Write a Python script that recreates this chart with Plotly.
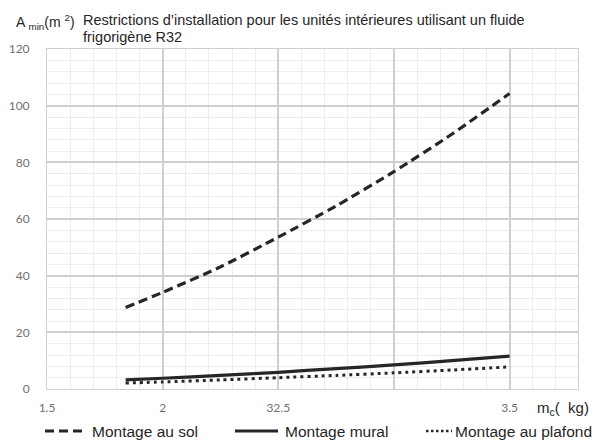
import plotly.graph_objects as go

# Data
m_c = [1.84, 2.0, 2.25, 2.5, 2.75, 3.0, 3.25, 3.5]
sol = [28.8, 34.1, 43.1, 53.6, 64.6, 76.7, 89.9, 104.3]
mural = [3.2, 3.8, 4.8, 5.9, 7.2, 8.5, 10.0, 11.6]
plafond = [2.1, 2.5, 3.2, 4.0, 4.8, 5.7, 6.7, 7.8]

x_tickvals = [1.5, 2.0, 2.5, 3.0, 3.5]
x_ticktext = ["1.5", "2", "32.5", "", "3.5"]
y_tickvals = [0, 20, 40, 60, 80, 100, 120]

names = ["Montage au sol", "Montage mural", "Montage au plafond"]

L, R, T, B = 47, 22, 49, 59
W, H = 600, 448
pw = W - L - R
ph = H - T - B

INK = "#262626"
dashes = ["9px,5px", "solid", "3px,4px"]
widths = [3.2, 3.2, 3.0]

fig = go.Figure()
for name, ys, d, w in zip(names, [sol, mural, plafond], dashes, widths):
    fig.add_trace(go.Scatter(x=m_c, y=ys, mode="lines", name=name, showlegend=False,
                             line=dict(color=INK, width=w, dash=d, shape="spline", smoothing=0.6)))

tickfont = dict(family="Lato, Liberation Sans, sans-serif", size=12, color="#707070")
txtfont = "Liberation Sans, Arial, sans-serif"


def px(xp):
    return (xp - L) / pw


def py(yp):
    return (H - B - yp) / ph


def note(text, xp, yp, size, anchor="left"):
    return dict(text=text, x=px(xp), y=py(yp), xref="paper", yref="paper",
                showarrow=False, xanchor=anchor, yanchor="middle", align="left",
                font=dict(family=txtfont, size=size, color=INK))


# manual legend (key samples + labels) below the plot
leg_y = 431
leg_keys = [(45, 84, "9px,5px", 3.2), (235, 278, "solid", 3.2), (426, 452, "2.5px,2.5px", 2.6)]
leg_text = [(90, "left"), (283, "left"), (594, "right")]
shapes = []
for (x0, x1, d, w) in leg_keys:
    shapes.append(dict(type="line", xref="paper", yref="paper",
                       x0=px(x0), x1=px(x1), y0=py(leg_y), y1=py(leg_y),
                       line=dict(color=INK, width=w, dash=d)))

annotations = [
    note("A <sub>min</sub>(m <sup>2</sup>)", 14, 22, 14),
    note("Restrictions d\u2019installation pour les unités intérieures utilisant un fluide", 81, 20, 14.5),
    note("frigorigène R32", 81, 37, 14.5),
    note("m<sub>c</sub>(  kg)", 535, 408, 15),
]
for name, (tx, anc) in zip(names, leg_text):
    annotations.append(note(name, tx, leg_y, 15.5, anc))

fig.update_layout(
    width=W, height=H,
    margin=dict(l=L, r=R, t=T, b=B, autoexpand=False),
    paper_bgcolor="white", plot_bgcolor="white",
    showlegend=False,
    xaxis=dict(range=[1.5, 3.796], tickvals=x_tickvals, ticktext=x_ticktext,
               showgrid=True, gridcolor="#cfcfcf", gridwidth=1.5,
               minor=dict(dtick=0.1, showgrid=True, gridcolor="#ececec", gridwidth=1),
               zeroline=False, showline=True, linecolor="#cfcfcf", mirror=True,
               ticks="", tickfont=tickfont, ticklabelstandoff=8),
    yaxis=dict(range=[0, 120], tickvals=y_tickvals,
               showgrid=True, gridcolor="#cfcfcf", gridwidth=1.5,
               minor=dict(dtick=4, showgrid=True, gridcolor="#ececec", gridwidth=1),
               zeroline=False, showline=True, linecolor="#cfcfcf", mirror=True,
               ticks="", tickfont=tickfont, ticklabelstandoff=14),
    shapes=shapes,
    annotations=annotations,
)

fig.write_html("out.html")
